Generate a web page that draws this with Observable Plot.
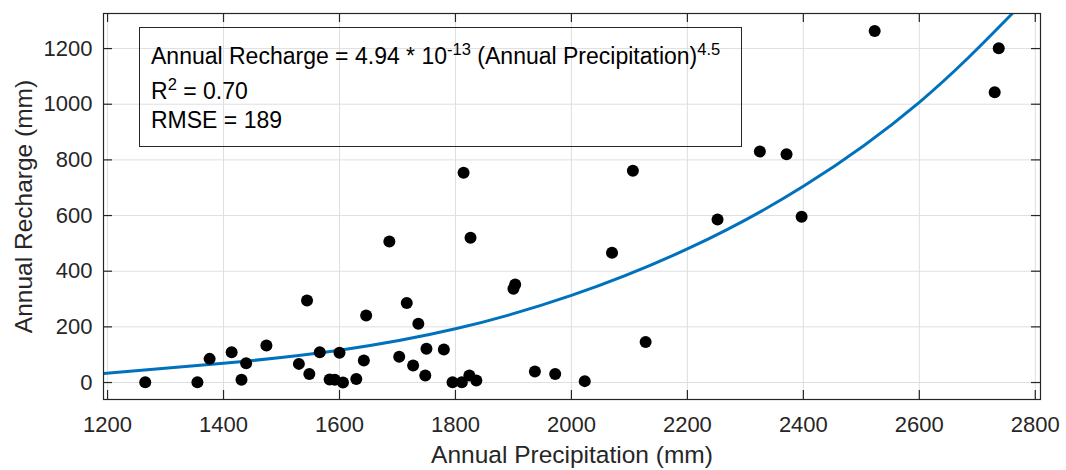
<!DOCTYPE html>
<html>
<head>
<meta charset="utf-8">
<script src="https://cdn.jsdelivr.net/npm/d3@7"></script>
<script src="https://cdn.jsdelivr.net/npm/@observablehq/plot@0.6"></script>
<style>
  html, body { margin: 0; padding: 0; background: #fff; }
  #wrap { position: relative; width: 1066px; height: 470px; font-family: "Liberation Sans", Arial, sans-serif; color: #262626; }
  .legbox { position: absolute; left: 139px; top: 27px; width: 603px; height: 120px; border: 1.3px solid #262626; box-sizing: border-box; }
  .legline { position: absolute; left: 151px; font-size: 23px; line-height: 1; white-space: nowrap; color: #000; }
  .sup { position: relative; top: -0.5em; font-size: 0.72em; }
</style>
</head>
<body>
<div id="wrap"></div>
<script>
// Scatter data: annual precipitation (mm) vs annual recharge (mm)
const precip = [1265, 1355, 1376, 1414, 1431, 1439, 1474, 1530, 1544, 1548,
  1566, 1583, 1592, 1600, 1606, 1629, 1642, 1646, 1686, 1703,
  1716, 1727, 1736, 1748, 1750, 1780, 1795, 1811, 1814, 1824,
  1826, 1836, 1900, 1903, 1937, 1972, 2023, 2070, 2106, 2128,
  2252, 2325, 2371, 2397, 2523, 2730, 2737];
const recharge = [1, 1, 85, 109, 10, 69, 133, 67, 295, 31,
  109, 11, 10, 107, 0, 13, 79, 241, 507, 93,
  286, 61, 211, 25, 121, 119, 1, 1, 754, 25,
  520, 7, 337, 352, 40, 31, 5, 466, 761, 146,
  586, 830, 820, 596, 1263, 1043, 1201];

// Fitted power curve
const fitX = [1193, 1400, 1600, 1800, 2000, 2200, 2400, 2600, 2760];
const fitY = [32, 69, 116, 193, 313, 480, 705, 1007, 1325];

const xTicks = [1200, 1400, 1600, 1800, 2000, 2200, 2400, 2600, 2800];
const yTicks = [0, 200, 400, 600, 800, 1000, 1200];

const points = precip.map((p, i) => ({p, r: recharge[i]}));
const fit = fitX.map((x, i) => ({x, y: fitY[i]}));

const W = 1066, H = 470, mL = 103, mR = 26, mT = 13, mB = 71;
const frameW = W - mL - mR, frameH = H - mT - mB;
const tickLen = 9;
const gridColor = "#dfdfdf";
const ink = "#262626";

const chart = Plot.plot({
  width: W,
  height: H,
  marginLeft: mL,
  marginRight: mR,
  marginTop: mT,
  marginBottom: mB,
  style: {fontFamily: '"Liberation Sans", Arial, sans-serif', fontSize: "22px", color: ink, background: "white"},
  x: {domain: [1193, 2809]},
  y: {domain: [-61, 1326]},
  marks: [
    Plot.gridX(xTicks, {stroke: gridColor, strokeOpacity: 1, strokeWidth: 1}),
    Plot.gridY(yTicks, {stroke: gridColor, strokeOpacity: 1, strokeWidth: 1}),
    Plot.line(fit, {x: "x", y: "y", curve: "natural", stroke: "#0072BD", strokeWidth: 3, clip: true}),
    Plot.dot(points, {x: "p", y: "r", r: 6, fill: "black", stroke: "none"}),
    Plot.frame({stroke: ink, strokeWidth: 1.2}),
    // inward ticks on all four sides
    Plot.ruleX(xTicks, {stroke: ink, strokeWidth: 1.2, insetTop: frameH - tickLen}),
    Plot.ruleX(xTicks, {stroke: ink, strokeWidth: 1.2, insetBottom: frameH - tickLen}),
    Plot.ruleY(yTicks, {stroke: ink, strokeWidth: 1.2, insetRight: frameW - tickLen}),
    Plot.ruleY(yTicks, {stroke: ink, strokeWidth: 1.2, insetLeft: frameW - tickLen}),
    Plot.axisX(xTicks, {anchor: "bottom", tickSize: 0, tickPadding: 17, tickFormat: d => String(d), label: null, fontSize: 22, fill: ink}),
    Plot.axisY(yTicks, {anchor: "left", tickSize: 0, tickPadding: 11, tickFormat: d => String(d), label: null, fontSize: 22, fill: ink}),
    Plot.text(["Annual Precipitation (mm)"], {frameAnchor: "bottom", dy: 56, fontSize: 24.5, fill: ink, lineAnchor: "middle", textAnchor: "middle"}),
    Plot.text(["Annual Recharge (mm)"], {frameAnchor: "left", rotate: -90, dx: -79, fontSize: 24.5, fill: ink, lineAnchor: "middle", textAnchor: "middle"})
  ]
});

const wrap = document.getElementById("wrap");
wrap.appendChild(chart);

const box = document.createElement("div");
box.className = "legbox";
wrap.appendChild(box);

const lines = [
  {top: 44.5, html: 'Annual Recharge = 4.94 * 10<span class="sup">-13</span> (Annual Precipitation)<span class="sup">4.5</span>'},
  {top: 79.5, html: 'R<span class="sup">2</span> = 0.70'},
  {top: 108.5, html: 'RMSE = 189'}
];
for (const l of lines) {
  const d = document.createElement("div");
  d.className = "legline";
  d.style.top = l.top + "px";
  d.innerHTML = l.html;
  wrap.appendChild(d);
}
</script>
</body>
</html>
